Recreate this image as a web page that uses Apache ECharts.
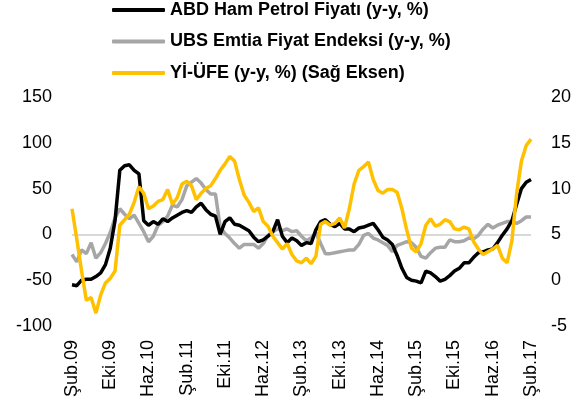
<!DOCTYPE html>
<html><head><meta charset="utf-8">
<script src="https://cdn.jsdelivr.net/npm/echarts@6/dist/echarts.min.js"></script>
<style>html,body{margin:0;padding:0;background:#fff}#c{width:585px;height:410px}</style>
</head><body><div id="c"></div>
<script>
const monthNames = ['Oca','Şub','Mar','Nis','May','Haz','Tem','Ağu','Eyl','Eki','Kas','Ara'];
const startYear = 2009, startMonth = 1, nPoints = 97; // Şub.09 .. Şub.17
const categories = [];
for (let k = 0; k < nPoints; k++) {
  const m = (startMonth + k) % 12, y = startYear + Math.floor((startMonth + k) / 12);
  categories.push(monthNames[m] + '.' + String(y).slice(2));
}
const oilNames = 'ABD Ham Petrol Fiyatı (y-y, %)';
const ubsName = 'UBS Emtia Fiyat Endeksi (y-y, %)';
const ppiName = 'Yİ-ÜFE (y-y, %) (Sağ Eksen)';
const oil = [-55,-56,-50,-49,-49,-46,-42,-33,-15,15,70,75,76,70,66,15,10,14,11,17,14,18,21,24,26,24,30,34,27,22,20,0,14,18,11,10,7,4,-3,-8,-6,-2,3,16,-2,-9,-4,-7,-12,-9,-10,5,14,16,11,8.5,12,6,6,3,7,8,10,12,5,-3,-6,-11,-23,-37,-47,-50,-51,-53,-40,-42,-46,-51,-49,-45,-40,-37,-31,-31,-25,-20,-19,-17,-16,-9,-1,6,15,33,50,57,60];
const ubs = [-22,-30,-17,-21,-9,-26,-20,-10,2,18,28,22,17,21,12,3,-8,-2,10,14,20,32,30,38,53,57,61,56,49,44,44,8,1,-4,-10,-15,-11,-11,-11,-15,-10,-1,3,6,4,6,3,4,-2,-7,-4,2,-10,-21,-21,-20,-19,-18,-17,-17,-11,-1,1,-4,-6,-9,-12,-19,-12,-10,-8,-9,-14,-24,-26,-20,-15,-14,-14,-6,-8,-8,-7,-4,-5,-1,6,11,7,10,12,14,14,12,15,19,19];
const ppi = [7.8,4.5,1.0,-2.2,-1.9,-3.6,-1.6,-0.3,0.2,1.0,6.0,6.6,7.2,8.5,10.2,9.5,7.8,8.1,8.6,8.8,9.9,8.3,9.0,10.5,10.8,10.3,8.8,9.5,10.0,10.3,11.1,12.0,12.7,13.5,13.0,11.0,9.3,8.5,7.5,7.9,6.4,5.9,4.8,4.1,3.4,4.0,2.8,2.1,1.9,2.4,1.8,2.6,6.1,6.4,6.0,6.2,6.8,5.7,7.8,10.5,12.0,12.4,12.9,11.0,9.8,9.5,9.9,9.9,9.6,7.8,5.5,3.5,3.1,4.0,6.0,6.7,5.9,6.1,6.6,6.4,5.6,5.5,5.8,5.6,4.2,3.4,2.8,3.1,3.4,3.8,2.4,1.9,4.3,9.5,13.0,14.7,15.4];
const leftTicks = {min:-100, max:150, interval:50};
const rightTicks = {min:-5, max:20, interval:5};

const font = 'Liberation Sans, Arial, sans-serif';
const chart = echarts.init(document.getElementById('c'), null, {renderer:'canvas'});
chart.setOption({
  animation:false,
  backgroundColor:'#fff',
  legend:{
    orient:'vertical', left:112, top:0, padding:0, itemWidth:53, itemHeight:4, itemGap:11.5,
    icon:'roundRect',
    textStyle:{fontFamily:font, fontWeight:'bold', fontSize:18, color:'#000', lineHeight:20},
    data:[oilNames, ubsName, ppiName]
  },
  grid:{left:72, right:54, top:97, bottom:84, containLabel:false},
  xAxis:{
    type:'category', data:categories, boundaryGap:false,
    axisLine:{show:false, onZero:false}, axisTick:{show:false},
    axisLabel:{interval:7, rotate:90, margin:14, fontFamily:font, fontSize:18, color:'#000'},
    splitLine:{show:false}
  },
  yAxis:[
    {type:'value', min:leftTicks.min, max:leftTicks.max, interval:leftTicks.interval,
     axisLine:{show:false}, axisTick:{show:false}, splitLine:{show:false},
     axisLabel:{margin:20, fontFamily:font, fontSize:18, color:'#000'}},
    {type:'value', min:rightTicks.min, max:rightTicks.max, interval:rightTicks.interval,
     axisLine:{show:false}, axisTick:{show:false}, splitLine:{show:false},
     axisLabel:{margin:20, fontFamily:font, fontSize:18, color:'#000'}}
  ],
  series:[
    {name:ubsName, type:'line', data:ubs, yAxisIndex:0, symbol:'none', z:2,
     lineStyle:{color:'#a6a6a6', width:3.5}, itemStyle:{color:'#a6a6a6'},
     markLine:{silent:true, symbol:'none', label:{show:false}, z:1,
       lineStyle:{color:'#d9d9d9', width:2, type:'solid'}, data:[{yAxis:0}]}},
    {name:oilNames, type:'line', data:oil, yAxisIndex:0, symbol:'none', z:3,
     lineStyle:{color:'#000000', width:3.5}, itemStyle:{color:'#000000'}},
    {name:ppiName, type:'line', data:ppi, yAxisIndex:1, symbol:'none', z:4,
     lineStyle:{color:'#ffc000', width:3.5}, itemStyle:{color:'#ffc000'}}
  ]
});
</script></body></html>
